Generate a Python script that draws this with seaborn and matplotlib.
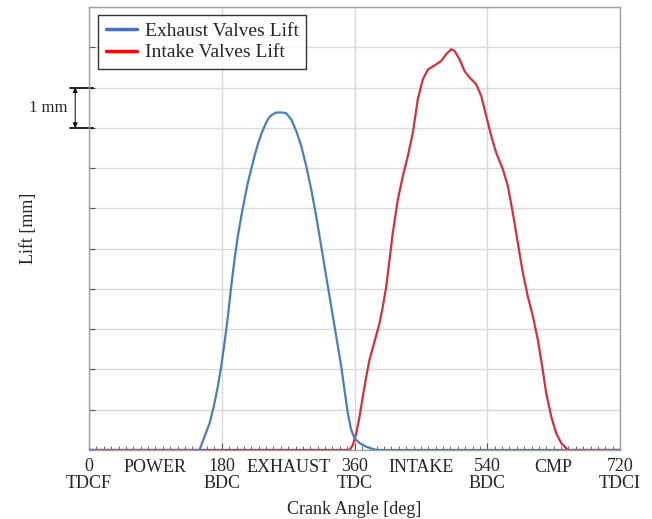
import numpy as np
import pandas as pd
import matplotlib
matplotlib.use("Agg")
import matplotlib.pyplot as plt
import seaborn as sns
from matplotlib.lines import Line2D
from matplotlib import transforms

# ---- data ----
exh_deg = [0, 149.8, 156.6, 163.4, 169.2, 174.7, 179.2, 183.7, 188.3, 192.8, 197.3,
           201.8, 206.4, 210.8, 215.3, 219.9, 224.4, 228.9, 233.5, 238.0, 242.4,
           247.0, 253.8, 262.8, 267.4, 274.2, 281.0, 287.7, 294.5, 301.3, 308.1,
           314.8, 321.6, 328.4, 335.2, 342.0, 346.4, 350.9, 355.5, 360.0, 366.8,
           375.9, 389.4, 720]
exh_lift = [0, 0, 0.33, 0.66, 1.08, 1.58, 2.07, 2.65, 3.32, 4.06, 4.73,
            5.31, 5.80, 6.22, 6.63, 6.97, 7.30, 7.59, 7.84, 8.04, 8.21,
            8.31, 8.38, 8.38, 8.36, 8.21, 7.92, 7.55, 7.05, 6.47, 5.80,
            5.06, 4.31, 3.56, 2.82, 2.07, 1.49, 0.91, 0.50, 0.29, 0.17,
            0.08, 0, 0]

int_deg = [0, 353.2, 357.7, 362.3, 366.8, 371.3, 375.9, 380.3, 387.1, 393.9, 398.4,
           403.0, 407.5, 411.9, 418.7, 425.5, 432.3, 439.1, 445.8, 452.6, 459.4,
           468.5, 477.6, 484.3, 491.1, 495.6, 502.4, 509.2, 515.9, 525.0, 531.8,
           538.6, 545.4, 552.1, 561.1, 567.9, 574.6, 581.4, 588.2, 595.0, 601.8,
           608.5, 614.5, 619.9, 626.7, 633.5, 640.3, 649.2, 720]
int_lift = [0, 0, 0.12, 0.41, 0.83, 1.33, 1.82, 2.24, 2.69, 3.15, 3.56,
            4.06, 4.73, 5.39, 6.22, 6.80, 7.30, 7.88, 8.71, 9.20, 9.45,
            9.55, 9.66, 9.83, 9.95, 9.91, 9.70, 9.41, 9.25, 9.08, 8.79,
            8.29, 7.79, 7.38, 6.97, 6.55, 5.89, 5.14, 4.40, 3.81, 3.32,
            2.74, 2.07, 1.41, 0.83, 0.41, 0.17, 0, 0]

major_ticks = [0, 180, 360, 540, 720]
major_labels = ["0\nTDCF", "180\nBDC", "360\nTDC", "540\nBDC", "720\nTDCI"]
stroke_pos = [90, 270, 450, 630]
stroke_labels = ["POWER", "EXHAUST", "INTAKE", "CMP"]
series_names = ["Exhaust Valves Lift", "Intake Valves Lift"]

df = pd.concat([
    pd.DataFrame({"deg": exh_deg, "lift": exh_lift, "valve": series_names[0]}),
    pd.DataFrame({"deg": int_deg, "lift": int_lift, "valve": series_names[1]}),
])

sns.set_theme(style="white")
plt.rcParams["font.family"] = ["Liberation Serif", "DejaVu Serif"]
plt.rcParams["font.size"] = 13

fig = plt.figure(figsize=(6.52, 5.19), dpi=100)
ax = fig.add_axes([0.1365, 0.133, 0.8145, 0.8535])

blue_c, red_c = "#4a7fb5", "#d42f3c"
line_colors = {series_names[0]: blue_c, series_names[1]: red_c}
sns.lineplot(data=df, x="deg", y="lift", hue="valve", palette=line_colors,
             hue_order=[series_names[1], series_names[0]],
             estimator=None, sort=False, linewidth=1.6, legend=False, ax=ax)
curve_lines = ax.get_lines()
for i, ln in enumerate(curve_lines):
    ln.set_solid_joinstyle("round")
    ln.set_solid_capstyle("butt")
    ln.set_zorder(3.0 + 0.2 * i)   # intake first, exhaust on top

ax.set_xlim(0, 720)
ax.set_ylim(0, 11)
ax.set_xticks(major_ticks)
ax.set_xticklabels(major_labels, fontsize=13, linespacing=0.95)
ax.set_xticks(np.arange(0, 721, 10), minor=True)
ax.set_yticks(np.arange(0, 12, 1))
ax.set_yticklabels([])
ax.tick_params(axis="x", which="major", direction="in", length=5, width=0.8,
               color="#555555", pad=6, bottom=True)
ax.tick_params(axis="x", which="minor", direction="in", length=3, width=0.7,
               color="#666666", bottom=True)
ax.tick_params(axis="y", which="major", direction="in", length=4, width=0.8,
               color="#555555", left=True)
ax.grid(True, which="major", color="#d9d9d9", linewidth=1.0)
for s in ax.spines.values():
    s.set_color("#a0a0a0")
    s.set_linewidth(1.0)

trans = transforms.blended_transform_factory(ax.transData, ax.transAxes)
for p, lab in zip(stroke_pos, stroke_labels):
    ax.text(p, -0.040, lab, transform=trans, ha="center", va="center", fontsize=13)

ax.set_xlabel("Crank Angle [deg]", fontsize=13, labelpad=7)
ax.set_ylabel("Lift [mm]", fontsize=13, labelpad=34)

# 1 mm scale marker
ytr = transforms.blended_transform_factory(ax.transAxes, ax.transData)
for yv in (8, 9):
    ax.plot([-0.036, 0.008], [yv, yv], transform=ytr, color="black", lw=1.2, clip_on=False)
ax.annotate("", xy=(-0.026, 9), xytext=(-0.026, 8), xycoords=ytr, textcoords=ytr,
            arrowprops=dict(arrowstyle="<|-|>", color="black", lw=0.7,
                            mutation_scale=7, shrinkA=0, shrinkB=0))
ax.text(-0.04, 8.5, "1 mm", transform=ytr, ha="right", va="center", fontsize=12)

handles = [Line2D([], [], color="#4472c4", lw=2.5), Line2D([], [], color="#ff0000", lw=2.5)]
leg = ax.legend(handles, series_names, loc="upper left", bbox_to_anchor=(0.017, 0.983),
                frameon=True, fancybox=False, edgecolor="black", fontsize=14,
                handlelength=1.6, borderpad=0.4, labelspacing=0.2, handletextpad=0.4,
                borderaxespad=0)
leg.get_frame().set_linewidth(1.0)
leg.set_zorder(5)

fig.savefig("out.png", dpi=100)
